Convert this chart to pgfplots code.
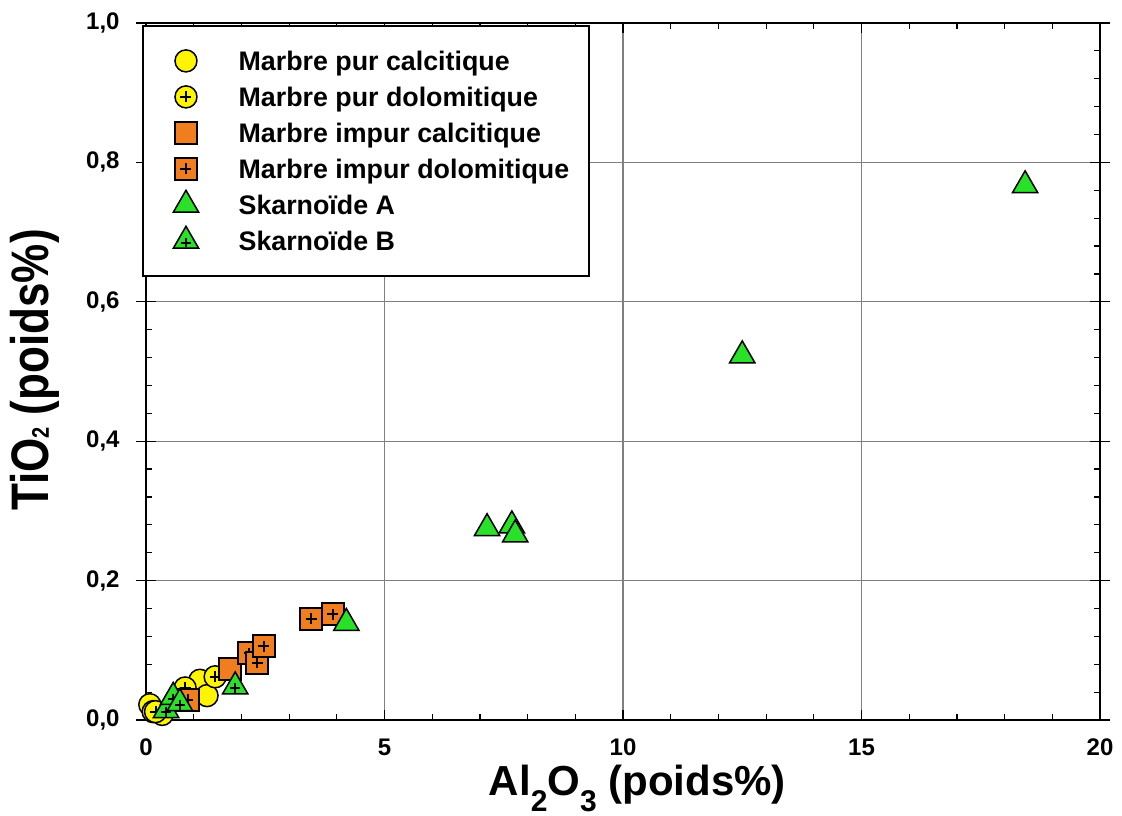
\documentclass[border=0pt]{standalone}
\usepackage{pgfplots}
\pgfplotsset{compat=1.18}
\usepackage{graphicx}
\usepackage{fontspec}
\setmainfont{Liberation Sans}
\definecolor{cyel}{RGB}{255,245,0}
\definecolor{corg}{RGB}{240,125,30}
\definecolor{cgrn}{RGB}{40,225,40}

\pgfdeclareplotmark{circp}{%
  \pgfpathcircle{\pgfpointorigin}{\pgfplotmarksize}%
  \pgfusepathqfillstroke
  \pgfscope
  \pgfsetlinewidth{1pt}%
  \pgfpathmoveto{\pgfqpoint{-0.5\pgfplotmarksize}{0pt}}%
  \pgfpathlineto{\pgfqpoint{0.5\pgfplotmarksize}{0pt}}%
  \pgfpathmoveto{\pgfqpoint{0pt}{-0.5\pgfplotmarksize}}%
  \pgfpathlineto{\pgfqpoint{0pt}{0.5\pgfplotmarksize}}%
  \pgfusepathqstroke
  \endpgfscope
}
\pgfdeclareplotmark{sqp}{%
  \pgfpathrectangle{\pgfqpoint{-\pgfplotmarksize}{-\pgfplotmarksize}}{\pgfqpoint{2\pgfplotmarksize}{2\pgfplotmarksize}}%
  \pgfusepathqfillstroke
  \pgfscope
  \pgfsetlinewidth{1pt}%
  \pgfpathmoveto{\pgfqpoint{-0.5\pgfplotmarksize}{0pt}}%
  \pgfpathlineto{\pgfqpoint{0.5\pgfplotmarksize}{0pt}}%
  \pgfpathmoveto{\pgfqpoint{0pt}{-0.5\pgfplotmarksize}}%
  \pgfpathlineto{\pgfqpoint{0pt}{0.5\pgfplotmarksize}}%
  \pgfusepathqstroke
  \endpgfscope
}
\pgfdeclareplotmark{tri}{%
  \pgfpathmoveto{\pgfqpointpolar{90}{\pgfplotmarksize}}%
  \pgfpathlineto{\pgfqpointpolar{210}{\pgfplotmarksize}}%
  \pgfpathlineto{\pgfqpointpolar{330}{\pgfplotmarksize}}%
  \pgfpathclose
  \pgfusepathqfillstroke
}
\pgfdeclareplotmark{trip}{%
  \pgfpathmoveto{\pgfqpointpolar{90}{\pgfplotmarksize}}%
  \pgfpathlineto{\pgfqpointpolar{210}{\pgfplotmarksize}}%
  \pgfpathlineto{\pgfqpointpolar{330}{\pgfplotmarksize}}%
  \pgfpathclose
  \pgfusepathqfillstroke
  \pgfscope
  \pgfsetlinewidth{1pt}%
  \pgfpathmoveto{\pgfqpoint{-0.33\pgfplotmarksize}{-0.12\pgfplotmarksize}}%
  \pgfpathlineto{\pgfqpoint{0.33\pgfplotmarksize}{-0.12\pgfplotmarksize}}%
  \pgfpathmoveto{\pgfqpoint{0pt}{-0.45\pgfplotmarksize}}%
  \pgfpathlineto{\pgfqpoint{0pt}{0.21\pgfplotmarksize}}%
  \pgfusepathqstroke
  \endpgfscope
}

\begin{document}
\begin{tikzpicture}
\begin{axis}[
  scale only axis, width=477pt, height=348.5pt,
  xmin=0, xmax=20, ymin=0, ymax=1,
  xtick={0,5,10,15,20}, ytick={0,0.2,0.4,0.6,0.8,1},
  minor x tick num=4, minor y tick num=4,
  tick align=inside, major tick length=5pt, minor tick length=3pt,
  tick style={black, line width=0.6pt},
  grid=major, major grid style={gray, line width=0.6pt},
  axis line style={line width=1pt, black},
  extra y ticks={0,0.2,0.4,0.6,0.8,1}, extra y tick labels={},
  extra y tick style={tick align=outside, grid=none},
  /pgf/number format/assume math mode=true,
  xticklabel style={font=\bfseries\fontsize{12}{14}\selectfont, yshift=-6pt},
  yticklabel style={font=\bfseries\fontsize{12}{14}\selectfont, xshift=-9.7pt,
    /pgf/number format/.cd, fixed, fixed zerofill, precision=1, use comma},
  xlabel={Al{\raisebox{-8.3pt}{\fontsize{15}{15}\selectfont 2}}O{\raisebox{-8.3pt}{\fontsize{15}{15}\selectfont 3}} (poids\%)},
  xlabel style={font=\bfseries\fontsize{21}{26}\selectfont, at={(axis description cs:0.515,-0.1076)}, anchor=base},
  ylabel={\scalebox{1}[1.2]{TiO{\fontsize{10}{10}\selectfont 2} (poids\%)}},
  ylabel style={font=\bfseries\fontsize{22}{26}\selectfont, at={(axis description cs:-0.1017,0.502)}, anchor=base, rotate=0},
  legend cell align=left,
  legend image code/.code={\path[draw=none,fill=none] (-11.5pt,-0.1pt) rectangle (-11.5pt,0.1pt); \draw[mark repeat=2,mark phase=2,#1] plot coordinates {(-6pt,0pt)(0pt,0pt)(6pt,0pt)};},
  legend style={at={(axis description cs:-0.004,0.997)}, anchor=north west, draw=black, line width=0.8pt, fill=white,
    inner xsep=10pt, inner ysep=8.5pt, row sep=0pt, column sep=20pt,
    nodes={inner xsep=0pt, inner ysep=0pt, text height=13.7pt, text depth=4.3pt},
    font=\bfseries\fontsize{13.4}{15}\selectfont},
]
\addplot[only marks, mark=*, mark size=5.5pt, mark options={fill=cyel, draw=black, line width=0.75pt}]
  coordinates {(0.08,0.022) (0.15,0.012) (0.34,0.008) (1.13,0.057) (1.28,0.035)};
\addlegendentry{Marbre pur calcitique}
\addplot[only marks, mark=circp, mark size=5.5pt, mark options={fill=cyel, draw=black, line width=0.75pt}]
  coordinates {(0.20,0.012) (0.82,0.046) (1.45,0.062)};
\addlegendentry{Marbre pur dolomitique}
\addplot[only marks, mark=square*, mark size=5.5pt, mark options={fill=corg, draw=black, line width=0.75pt}]
  coordinates {(1.76,0.073)};
\addlegendentry{Marbre impur calcitique}
\addplot[only marks, mark=sqp, mark size=5.5pt, mark options={fill=corg, draw=black, line width=0.75pt}]
  coordinates {(0.88,0.029) (2.16,0.096) (2.33,0.082) (2.47,0.106) (3.46,0.145) (3.92,0.152)};
\addlegendentry{Marbre impur dolomitique}
\addplot[only marks, mark=tri, mark size=7.3pt, mark options={fill=cgrn, draw=black, line width=0.75pt}]
  coordinates {(4.2,0.139) (7.15,0.275) (7.67,0.279) (7.74,0.266) (12.5,0.523) (18.43,0.767)};
\addlegendentry{Skarnoïde A}
\addplot[only marks, mark=trip, mark size=7.3pt, mark options={fill=cgrn, draw=black, line width=0.75pt}]
  coordinates {(0.42,0.014) (0.57,0.033) (0.71,0.024) (1.87,0.048)};
\addlegendentry{Skarnoïde B}
\end{axis}
\pgfresetboundingbox
\useasboundingbox ([shift={(-73pt,-47.5pt)}]current axis.south west) rectangle ([shift={(11pt,11.5pt)}]current axis.north east);
\end{tikzpicture}
\end{document}
